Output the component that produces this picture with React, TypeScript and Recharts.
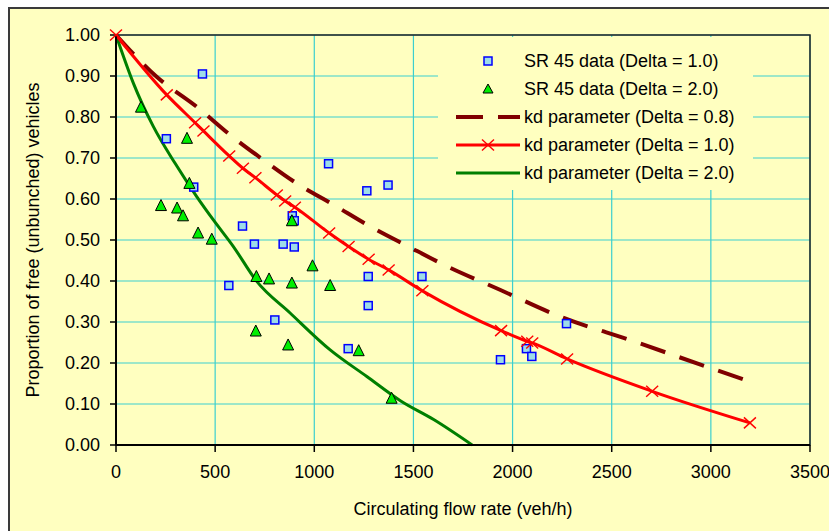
import React from 'react';
import { ComposedChart, XAxis, YAxis, CartesianGrid, Scatter, Line, Legend, ReferenceArea, Label } from 'recharts';

// SR 45 data (Delta = 1.0)
const sq1X = [254, 392, 436, 569, 638, 698, 801, 843, 889, 899, 899, 1072, 1171, 1265, 1272, 1272, 1372, 1543, 1939, 2070, 2097, 2272];
const sq1Y = [0.747, 0.629, 0.905, 0.389, 0.534, 0.49, 0.305, 0.49, 0.559, 0.547, 0.483, 0.686, 0.235, 0.62, 0.411, 0.34, 0.634, 0.411, 0.208, 0.235, 0.216, 0.296];

// SR 45 data (Delta = 2.0)
const tri2X = [126, 227, 308, 338, 358, 370, 414, 483, 705, 708, 772, 868, 887, 887, 991, 1080, 1224, 1390];
const tri2Y = [0.824, 0.584, 0.578, 0.559, 0.748, 0.638, 0.517, 0.502, 0.278, 0.411, 0.405, 0.244, 0.547, 0.395, 0.437, 0.389, 0.23, 0.114];

// kd parameter (Delta = 0.8)
const kd08X = [0, 205, 407, 576, 744, 915, 1097, 1282, 1475, 1652, 1939, 2241, 2612, 2948, 3197];
const kd08Y = [1.0, 0.898, 0.825, 0.756, 0.695, 0.637, 0.586, 0.533, 0.484, 0.44, 0.378, 0.313, 0.253, 0.196, 0.155];

// kd parameter (Delta = 1.0)
const kd10X = [0, 256, 399, 441, 571, 640, 703, 811, 853, 902, 1075, 1173, 1274, 1375, 1545, 1942, 2074, 2099, 2275, 2704, 3197];
const kd10Y = [1.0, 0.854, 0.786, 0.766, 0.705, 0.675, 0.652, 0.61, 0.595, 0.58, 0.517, 0.484, 0.453, 0.427, 0.376, 0.279, 0.253, 0.249, 0.21, 0.131, 0.054];

// kd parameter (Delta = 2.0)
const kd20X = [0, 88, 188, 298, 407, 491, 592, 710, 878, 1080, 1265, 1434, 1602, 1796];
const kd20Y = [1.0, 0.882, 0.777, 0.687, 0.606, 0.549, 0.484, 0.399, 0.322, 0.232, 0.167, 0.108, 0.062, 0.0];

const xTicks = [0, 500, 1000, 1500, 2000, 2500, 3000, 3500];
const yTicks = [0, 0.1, 0.2, 0.3, 0.4, 0.5, 0.6, 0.7, 0.8, 0.9, 1.0];

const legendLabels = [
  'SR 45 data (Delta = 1.0)',
  'SR 45 data (Delta = 2.0)',
  'kd parameter (Delta = 0.8)',
  'kd parameter (Delta = 1.0)',
  'kd parameter (Delta = 2.0)',
];

const zip = (xs: number[], ys: number[]) => xs.map((x, i) => ({ x, y: ys[i] }));

const sq1Data = zip(sq1X, sq1Y);
const tri2Data = zip(tri2X, tri2Y);
const kd08Data = zip(kd08X, kd08Y);
const kd10Data = zip(kd10X, kd10Y);
const kd20Data = zip(kd20X, kd20Y);

const FONT = '"Liberation Sans", Arial, sans-serif';
const FS = 18;
const BG = '#FFFFC0';
const GRID = '#3CCFCF';
const SQ_FILL = '#9EDCE8';
const SQ_STROKE = '#0000FF';
const TRI_FILL = '#00EE00';
const RED = '#FF0000';
const MAROON = '#800000';
const GREEN = '#007F00';

const SquareShape = (props: any) => {
  const { cx, cy } = props;
  if (cx == null || cy == null) return null;
  const s = 8;
  return <rect x={cx - s / 2} y={cy - s / 2} width={s} height={s} fill={SQ_FILL} stroke={SQ_STROKE} strokeWidth={1.5} />;
};

const TriangleShape = (props: any) => {
  const { cx, cy } = props;
  if (cx == null || cy == null) return null;
  const w = 11, h = 10;
  const pts = `${cx},${cy - h / 2 - 1} ${cx - w / 2},${cy + h / 2} ${cx + w / 2},${cy + h / 2}`;
  return <polygon points={pts} fill={TRI_FILL} stroke="#000" strokeWidth={1} />;
};

const XMark = ({ cx, cy }: { cx: number; cy: number }) => {
  const rx = 6, ry = 5.5;
  return (
    <g>
      <line x1={cx - rx} y1={cy - ry} x2={cx + rx} y2={cy + ry} stroke={RED} strokeWidth={1.4} />
      <line x1={cx - rx} y1={cy + ry} x2={cx + rx} y2={cy - ry} stroke={RED} strokeWidth={1.4} />
    </g>
  );
};

const XDot = (props: any) => {
  const { cx, cy, index } = props;
  if (cx == null || cy == null) return <g key={index} />;
  return <g key={index}><XMark cx={cx} cy={cy} /></g>;
};

const LegendBox = () => {
  const rowH = 28;
  const y0 = 24;
  const sx0 = 18, sx1 = 82, tx = 86, mid = 50;
  return (
    <div style={{ width: 315, height: 153, background: BG }}>
      <svg width={315} height={153} style={{ display: 'block', overflow: 'visible' }}>
        {legendLabels.map((lab, i) => {
          const y = y0 + i * rowH;
          let sym: React.ReactNode = null;
          if (i === 0) sym = <rect x={mid - 4} y={y - 4} width={8} height={8} fill={SQ_FILL} stroke={SQ_STROKE} strokeWidth={1.5} />;
          if (i === 1) sym = <polygon points={`${mid},${y - 5} ${mid - 5},${y + 4} ${mid + 5},${y + 4}`} fill={TRI_FILL} stroke="#000" strokeWidth={1} />;
          if (i === 2) sym = <line x1={sx0} y1={y} x2={sx1} y2={y} stroke={MAROON} strokeWidth={4} strokeDasharray="27 15" />;
          if (i === 3) sym = (
            <g>
              <line x1={sx0} y1={y} x2={sx1} y2={y} stroke={RED} strokeWidth={3} />
              <XMark cx={mid} cy={y} />
            </g>
          );
          if (i === 4) sym = <line x1={sx0} y1={y} x2={sx1} y2={y} stroke={GREEN} strokeWidth={3} />;
          return (
            <g key={lab}>
              {sym}
              <text x={tx} y={y} dy="0.35em" fontSize={FS} fontFamily={FONT} fill="#000">{lab}</text>
            </g>
          );
        })}
      </svg>
    </div>
  );
};

export default function App() {
  return (
    <div style={{ position: 'absolute', left: 0, top: 0, width: 829, height: 531, background: '#fff', overflow: 'hidden' }}>
      <div style={{ position: 'absolute', left: 8, top: 7, width: 840, height: 540, background: BG, borderLeft: '2px solid #3a3a3a', borderTop: '2px solid #3a3a3a' }} />
      <div style={{ position: 'absolute', left: 0, top: 0 }}>
        <ComposedChart width={829} height={531} margin={{ top: 35, right: 19, bottom: 46, left: 56 }} style={{ fontFamily: FONT }}>
          <CartesianGrid stroke={GRID} strokeWidth={1.2} />
          <XAxis
            dataKey="x"
            type="number"
            domain={[0, 3500]}
            ticks={xTicks}
            interval={0}
            height={40}
            axisLine={{ stroke: '#000', strokeWidth: 2 }}
            tickLine={{ stroke: '#000', strokeWidth: 1.5 }}
            tickSize={7}
            tickMargin={13}
            tick={{ fill: '#000', fontSize: FS, fontFamily: FONT }}
          >
            <Label value="Circulating flow rate (veh/h)" position="bottom" offset={17} style={{ fill: '#000', fontSize: FS, fontFamily: FONT }} />
          </XAxis>
          <YAxis
            type="number"
            domain={[0, 1]}
            ticks={yTicks}
            interval={0}
            width={60}
            axisLine={{ stroke: '#000', strokeWidth: 2 }}
            tickLine={{ stroke: '#000', strokeWidth: 1.5 }}
            tickSize={6}
            tickMargin={10}
            tickFormatter={(v: number) => v.toFixed(2)}
            tick={{ fill: '#000', fontSize: FS, fontFamily: FONT }}
          >
            <Label value="Proportion of free (unbunched) vehicles" angle={-90} position="left" offset={23} style={{ fill: '#000', fontSize: FS, fontFamily: FONT, textAnchor: 'middle' }} />
          </YAxis>
          <ReferenceArea x1={0} x2={3500} y1={0} y2={1} fill="none" stroke="#222" strokeWidth={1.5} ifOverflow="visible" />
          <Legend layout="vertical" align="center" verticalAlign="middle" content={() => <LegendBox />} wrapperStyle={{ position: 'absolute', left: 438, top: 37, width: 315, height: 153 }} />
          <Line data={kd08Data} dataKey="y" type="monotone" stroke={MAROON} strokeWidth={4} strokeDasharray="26 15" dot={false} activeDot={false} isAnimationActive={false} name="kd parameter (Delta = 0.8)" />
          <Line data={kd20Data} dataKey="y" type="monotone" stroke={GREEN} strokeWidth={3} dot={false} activeDot={false} isAnimationActive={false} name="kd parameter (Delta = 2.0)" />
          <Line data={kd10Data} dataKey="y" type="monotone" stroke={RED} strokeWidth={3} dot={<XDot />} activeDot={false} isAnimationActive={false} name="kd parameter (Delta = 1.0)" />
          <Scatter data={sq1Data} dataKey="y" shape={<SquareShape />} isAnimationActive={false} name="SR 45 data (Delta = 1.0)" />
          <Scatter data={tri2Data} dataKey="y" shape={<TriangleShape />} isAnimationActive={false} name="SR 45 data (Delta = 2.0)" />
        </ComposedChart>
      </div>
    </div>
  );
}
